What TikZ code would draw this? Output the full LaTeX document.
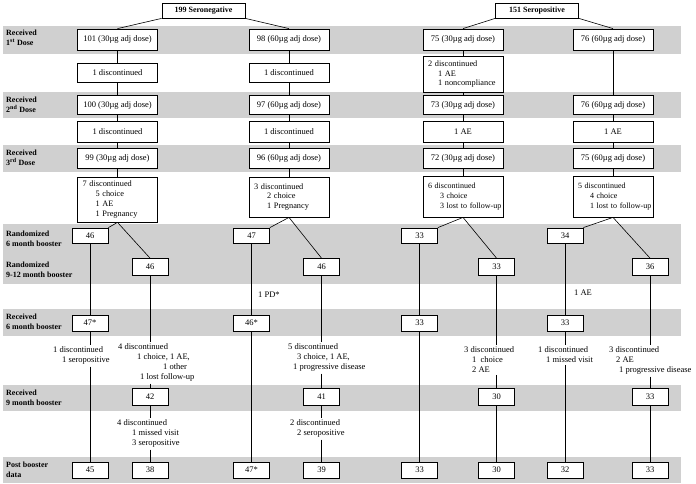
\documentclass[tikz,border=0pt]{standalone}
\usepackage{fontspec}
\setmainfont{Liberation Serif}
\definecolor{bandc}{RGB}{208,208,208}
\begin{document}
\begin{tikzpicture}[x=1pt,y=-1pt,
  bx/.style={draw=black,line width=0.8pt,fill=white,minimum width=80pt,minimum height=20pt,inner sep=1pt,font=\fontsize{8.5}{9.7}\selectfont},
  bxm/.style={bx,align=left,text width=70pt,inner xsep=5pt,font=\fontsize{8.3}{9.7}\selectfont},
  bxn/.style={bxm,font=\fontsize{8}{9.7}\selectfont},
  sb/.style={draw=black,line width=0.8pt,fill=white,minimum width=36pt,minimum height=16pt,inner sep=1pt,font=\fontsize{8.5}{10}\selectfont},
  topbx/.style={draw=black,line width=0.8pt,fill=white,minimum width=83pt,minimum height=15pt,inner sep=1pt,font=\bfseries\fontsize{8}{10}\selectfont},
  note/.style={inner xsep=0pt,inner ysep=2pt,align=left,anchor=north west,font=\fontsize{8.5}{10}\selectfont},
  side/.style={inner sep=0pt,anchor=west,font=\fontsize{8.5}{10}\selectfont},
  lbl/.style={inner sep=0pt,anchor=west,align=left,font=\bfseries\fontsize{8}{10}\selectfont},
  ln/.style={draw=black,line width=0.6pt},
  band/.style={fill=bandc}
]
\useasboundingbox (0,0) rectangle (696,483);
\fill[white] (0,0) rectangle (696,483);
% bands
\fill[band] (3,26) rectangle (681,54);
\fill[band] (3,92) rectangle (681,118);
\fill[band] (3,145) rectangle (681,172);
\fill[band] (3,224) rectangle (681,284);
\fill[band] (3,309) rectangle (681,336);
\fill[band] (3,385) rectangle (681,411);
\fill[band] (3,457) rectangle (681,483);
% labels
\node[lbl] (L1) at (6,38) {Received\\1\textsuperscript{st} Dose};
\node[lbl] (L2) at (6,104.5) {Received\\2\textsuperscript{nd} Dose};
\node[lbl] (L3) at (6,157.5) {Received\\3\textsuperscript{rd} Dose};
\node[lbl] (L4) at (6,239) {Randomized\\6 month booster};
\node[lbl] (L5) at (6,269.5) {Randomized\\9-12 month booster};
\node[lbl] (L6) at (6,322) {Received\\6 month booster};
\node[lbl] (L7) at (6,398) {Received\\9 month booster};
\node[lbl] (L8) at (6,470) {Post booster\\data};
% top
\node[topbx] (sn) at (203.5,10.5) {199 Seronegative};
\node[topbx] (sp) at (537,10.5) {151 Seropositive};
% row 1
\node[bx,minimum height=21pt] (a1) at (117.5,39.5) {101 (30µg adj dose)};
\node[bx,minimum height=21pt] (b1) at (289,39.5) {98 (60µg adj dose)};
\node[bx,minimum height=21pt] (c1) at (463,39.5) {75 (30µg adj dose)};
\node[bx,minimum height=21pt] (d1) at (613,39.5) {76 (60µg adj dose)};
% disc 1
\node[bx,minimum height=19pt] (a1d) at (117.5,72.5) {1 discontinued};
\node[bx,minimum height=19pt] (b1d) at (289,72.5) {1 discontinued};
\node[bxm,minimum height=36pt] (c1d) at (463,74) {\mbox{2 discontinued}\\\mbox{\hspace*{10pt}1 AE}\\\mbox{\hspace*{10pt}1 noncompliance}};
% row 2
\node[bx,minimum height=19pt] (a2) at (117.5,105) {100 (30µg adj dose)};
\node[bx,minimum height=19pt] (b2) at (289,105) {97 (60µg adj dose)};
\node[bx,minimum height=19pt] (c2) at (463,105) {73 (30µg adj dose)};
\node[bx,minimum height=19pt] (d2) at (613,105) {76 (60µg adj dose)};
% disc 2
\node[bx,minimum height=21pt] (a2d) at (117.5,131.5) {1 discontinued};
\node[bx,minimum height=21pt] (b2d) at (289,131.5) {1 discontinued};
\node[bx,minimum height=21pt] (c2d) at (463,131.5) {1 AE};
\node[bx,minimum height=21pt] (d2d) at (613,131.5) {1 AE};
% row 3
\node[bx,minimum height=20pt] (a3) at (117.5,158) {99 (30µg adj dose)};
\node[bx,minimum height=20pt] (b3) at (289,158) {96 (60µg adj dose)};
\node[bx,minimum height=20pt] (c3) at (463,158) {72 (30µg adj dose)};
\node[bx,minimum height=20pt] (d3) at (613,158) {75 (60µg adj dose)};
% disc 3
\node[bxm,minimum height=45pt] (a3d) at (117.5,199.5) {\mbox{7 discontinued}\\\mbox{\hspace*{13pt}5 choice}\\\mbox{\hspace*{13pt}1 AE}\\\mbox{\hspace*{13pt}1 Pregnancy}};
\node[bxm,minimum height=40pt] (b3d) at (289,197) {\mbox{3 discontinued}\\\mbox{\hspace*{13pt}2 choice}\\\mbox{\hspace*{13pt}1 Pregnancy}};
\node[bxn,minimum height=41pt] (c3d) at (463,196.5) {\mbox{6 discontinued}\\\mbox{\hspace*{12pt}3 choice}\\\mbox{\hspace*{12pt}3 lost to follow-up}};
\node[bxn,minimum height=41pt] (d3d) at (613,196.5) {\mbox{5 discontinued}\\\mbox{\hspace*{12pt}4 choice}\\\mbox{\hspace*{12pt}1 lost to follow-up}};
% randomized 6 month
\node[sb,minimum height=15pt] (ra) at (90,235.5) {46};
\node[sb,minimum height=15pt] (rc) at (251.5,235.5) {47};
\node[sb,minimum height=15pt] (re) at (419.5,235.5) {33};
\node[sb,minimum height=15pt] (rg) at (565,235.5) {34};
% randomized 9-12 month
\node[sb,minimum height=17pt] (rb) at (150,267) {46};
\node[sb,minimum height=17pt] (rd) at (321.5,267) {46};
\node[sb,minimum height=17pt] (rf) at (496.5,267) {33};
\node[sb,minimum height=17pt] (rh) at (650,267) {36};
% received 6 month
\node[sb] (sa) at (90,323) {47*};
\node[sb] (sc) at (251.5,323) {46*};
\node[sb] (se) at (419.5,323) {33};
\node[sb] (sg) at (565,323) {33};
% received 9 month
\node[sb,minimum height=17pt] (nb) at (150,397) {42};
\node[sb,minimum height=17pt] (nd) at (321.5,397) {41};
\node[sb,minimum height=17pt] (nf) at (496.5,397) {30};
\node[sb,minimum height=17pt] (nh) at (650,397) {33};
% post booster
\node[sb] (pa) at (90,470) {45};
\node[sb] (pb) at (150,470) {38};
\node[sb] (pc) at (251.5,470) {47*};
\node[sb] (pd) at (321.5,470) {39};
\node[sb] (pe) at (419.5,470) {33};
\node[sb] (pf) at (496.5,470) {30};
\node[sb] (pg) at (565,470) {32};
\node[sb] (ph) at (650,470) {33};
% notes
\node[note] (t1) at (53,344.5) {1 discontinued\\\hspace*{9pt}1 seropositive};
\node[note] (t2) at (118,341.5) {4 discontinued\\\hspace*{19pt}1 choice, 1 AE,\\\hspace*{45pt}1 other\\\hspace*{22pt}1 lost follow-up};
\node[note] (t3) at (288,341.5) {5 discontinued\\\hspace*{9pt}3 choice, 1 AE,\\\hspace*{5pt}1 progressive disease};
\node[note] (t4) at (464,344.5) {3 discontinued\\\hspace*{8pt}1\ \ choice\\\hspace*{8pt}2 AE};
\node[note] (t5) at (538,344.5) {1 discontinued\\\hspace*{8pt}1 missed visit};
\node[note] (t6) at (609,344.5) {3 discontinued\\\hspace*{7pt}2 AE\\\hspace*{10pt}1 progressive disease};
\node[note] (t7) at (117,417.5) {4 discontinued\\\hspace*{15pt}1 missed visit\\\hspace*{15pt}3 seropositive};
\node[note] (t8) at (290,417.5) {2 discontinued\\\hspace*{7pt}2 seropositive};
\node[side] (pd1) at (258,295) {1 PD*};
\node[side] (ae1) at (574,293) {1 AE};
% connectors top
\draw[ln] (sn.south west) -- (a1.north);
\draw[ln] (sn.south east) -- (b1.north);
\draw[ln] (sp.south west) -- (c1.north);
\draw[ln] (sp.south east) -- (d1.north);
% columns upper
\draw[ln] (a1) -- (a1d); \draw[ln] (a1d) -- (a2); \draw[ln] (a2) -- (a2d); \draw[ln] (a2d) -- (a3); \draw[ln] (a3) -- (a3d);
\draw[ln] (b1) -- (b1d); \draw[ln] (b1d) -- (b2); \draw[ln] (b2) -- (b2d); \draw[ln] (b2d) -- (b3); \draw[ln] (b3) -- (b3d);
\draw[ln] (c1) -- (c1d); \draw[ln] (c1d) -- (c2); \draw[ln] (c2) -- (c2d); \draw[ln] (c2d) -- (c3); \draw[ln] (c3) -- (c3d);
\draw[ln] (d1) -- (d2); \draw[ln] (d2) -- (d2d); \draw[ln] (d2d) -- (d3); \draw[ln] (d3) -- (d3d);
% diagonals
\draw[ln] (a3d.south) -- (ra.north east); \draw[ln] (a3d.south) -- (rb.north);
\draw[ln] (b3d.south) -- (rc.north east); \draw[ln] (b3d.south) -- (rd.north);
\draw[ln] (c3d.south) -- (re.north east); \draw[ln] (c3d.south) -- (rf.north);
\draw[ln] (d3d.south) -- (rg.north east); \draw[ln] (d3d.south) -- (rh.north);
% lower columns
\draw[ln] (ra) -- (sa);
\draw[ln] (sa.south) -- (sa.south |- t1.north);
\draw[ln] (sa.south |- t1.south) -- (pa.north);
\draw[ln] (rb.south) -- (rb.south |- t2.north);
\draw[ln] (rb.south |- t2.south) -- (nb.north);
\draw[ln] (nb.south) -- (nb.south |- t7.north);
\draw[ln] (nb.south |- t7.south) -- (pb.north);
\draw[ln] (rc) -- (sc); \draw[ln] (sc) -- (pc);
\draw[ln] (rd.south) -- (rd.south |- t3.north);
\draw[ln] (rd.south |- t3.south) -- (nd.north);
\draw[ln] (nd.south) -- (nd.south |- t8.north);
\draw[ln] (nd.south |- t8.south) -- (pd.north);
\draw[ln] (re) -- (se); \draw[ln] (se) -- (pe);
\draw[ln] (rf.south) -- (rf.south |- t4.north);
\draw[ln] (rf.south |- t4.south) -- (nf.north);
\draw[ln] (nf) -- (pf);
\draw[ln] (rg) -- (sg);
\draw[ln] (sg.south) -- (sg.south |- t5.north);
\draw[ln] (sg.south |- t5.south) -- (pg.north);
\draw[ln] (rh.south) -- (rh.south |- t6.north);
\draw[ln] (rh.south |- t6.south) -- (nh.north);
\draw[ln] (nh) -- (ph);
\end{tikzpicture}
\end{document}
